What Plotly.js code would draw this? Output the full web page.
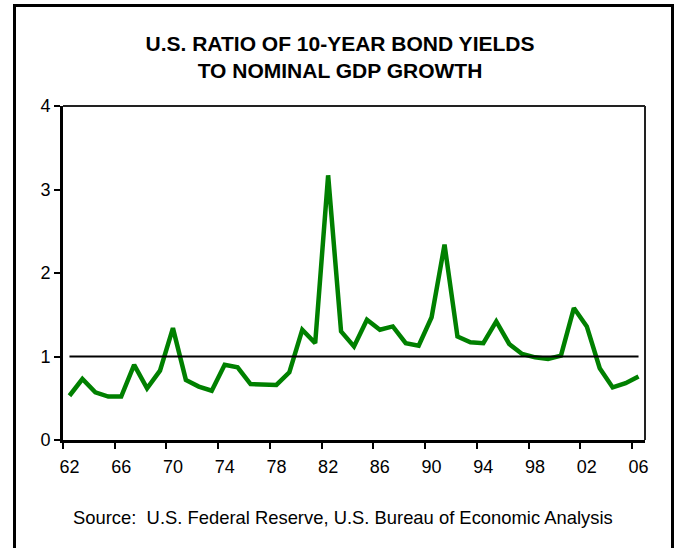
<!DOCTYPE html>
<html><head><meta charset="utf-8">
<script src="https://cdn.plot.ly/plotly-3.0.1.min.js"></script>
<style>
html,body{margin:0;padding:0;background:#fff;overflow:hidden}
#frame{position:absolute;left:13px;top:4px;width:655px;height:600px;border:3px solid #000;border-bottom:none}
#chart{position:absolute;left:0;top:0;width:678px;height:548px}
</style></head><body>
<div id="frame"></div>
<div id="chart"></div>
<script>
const years = [1962,1963,1964,1965,1966,1967,1968,1969,1970,1971,1972,1973,1974,1975,1976,1977,1978,1979,
  1980,1981,1982,1983,1984,1985,1986,1987,1988,1989,1990,1991,1992,1993,1994,1995,1996,1997,1998,1999,
  2000,2001,2002,2003,2004,2005,2006];
const ratio = [0.53,0.73,0.57,0.52,0.52,0.90,0.62,0.83,1.34,0.72,0.64,0.59,0.90,0.87,0.67,0.67,0.66,0.81,
  1.32,1.16,3.17,1.30,1.12,1.44,1.32,1.36,1.16,1.13,1.47,2.34,1.24,1.17,1.16,1.42,1.15,1.03,0.99,0.97,
  1.01,1.58,1.36,0.86,0.63,0.68,0.76];
const referenceLevel = 1;
const tickLabelYears = [1962,1966,1970,1974,1978,1982,1986,1990,1994,1998,2002,2006];
const tickLabels = ['62','66','70','74','78','82','86','90','94','98','02','06'];
const yTicks = [0,1,2,3,4];
const yTickLabels = ['0','1','2','3','4'];
const titleText = 'U.S. RATIO OF 10-YEAR BOND YIELDS<br>TO NOMINAL GDP GROWTH';
const sourceText = 'Source:  U.S. Federal Reserve, U.S. Bureau of Economic Analysis';

const xRange = [years[0] - 0.5, years[years.length - 1] + 0.5];
const font = 'Liberation Sans, Arial, sans-serif';

const traces = [
  {x: years, y: years.map(() => referenceLevel), type: 'scatter', mode: 'lines',
   line: {color: '#000', width: 2}, xaxis: 'x2', yaxis: 'y', hoverinfo: 'skip', showlegend: false},
  {x: years, y: ratio, type: 'scatter', mode: 'lines',
   line: {color: '#008000', width: 4.5}, showlegend: false}
];

const layout = {
  width: 678, height: 548,
  margin: {l: 63, r: 33, t: 106, b: 108},
  paper_bgcolor: 'rgba(0,0,0,0)', plot_bgcolor: 'rgba(0,0,0,0)',
  font: {family: font, color: '#000', size: 18},
  title: {text: titleText, font: {family: font, size: 21, color: '#000', weight: 'bold'},
          x: 0.5015, xanchor: 'center', xref: 'container', y: 0.907, yanchor: 'middle', yref: 'container'},
  showlegend: false,
  xaxis: {range: xRange, tickvals: tickLabelYears.map(y => y - 0.5), showticklabels: false,
          ticks: 'outside', ticklen: 6, tickwidth: 2, tickcolor: '#000',
          showline: true, linecolor: '#000', linewidth: 3, showgrid: false, zeroline: false, fixedrange: true},
  xaxis2: {range: xRange, overlaying: 'x', anchor: 'y', side: 'bottom', tickvals: tickLabelYears, ticktext: tickLabels,
           ticks: '', showline: false, showgrid: false, zeroline: false, ticklabelstandoff: 14,
           tickfont: {family: font, size: 18, color: '#000'}, fixedrange: true},
  yaxis: {range: [0, 4], tickvals: yTicks, ticktext: yTickLabels, ticks: 'outside', ticklen: 6, tickwidth: 2,
          tickcolor: '#000', showline: true, linecolor: '#000', linewidth: 3, showgrid: false, zeroline: false,
          tickfont: {family: font, size: 18, color: '#000'}, fixedrange: true},
  shapes: [
    {type: 'line', xref: 'paper', yref: 'paper', x0: 0, x1: 1, y0: 1, y1: 1, line: {color: '#222', width: 2}},
    {type: 'line', xref: 'paper', yref: 'paper', x0: 1, x1: 1, y0: 0, y1: 1, line: {color: '#222', width: 2}}
  ],
  annotations: [
    {text: sourceText, xref: 'paper', yref: 'paper', x: 0.4807, y: -0.2335, xanchor: 'center', yanchor: 'middle',
     showarrow: false, font: {family: font, size: 18.4, color: '#000'}}
  ]
};

Plotly.newPlot('chart', traces, layout, {displayModeBar: false, staticPlot: true});
</script>
</body></html>
